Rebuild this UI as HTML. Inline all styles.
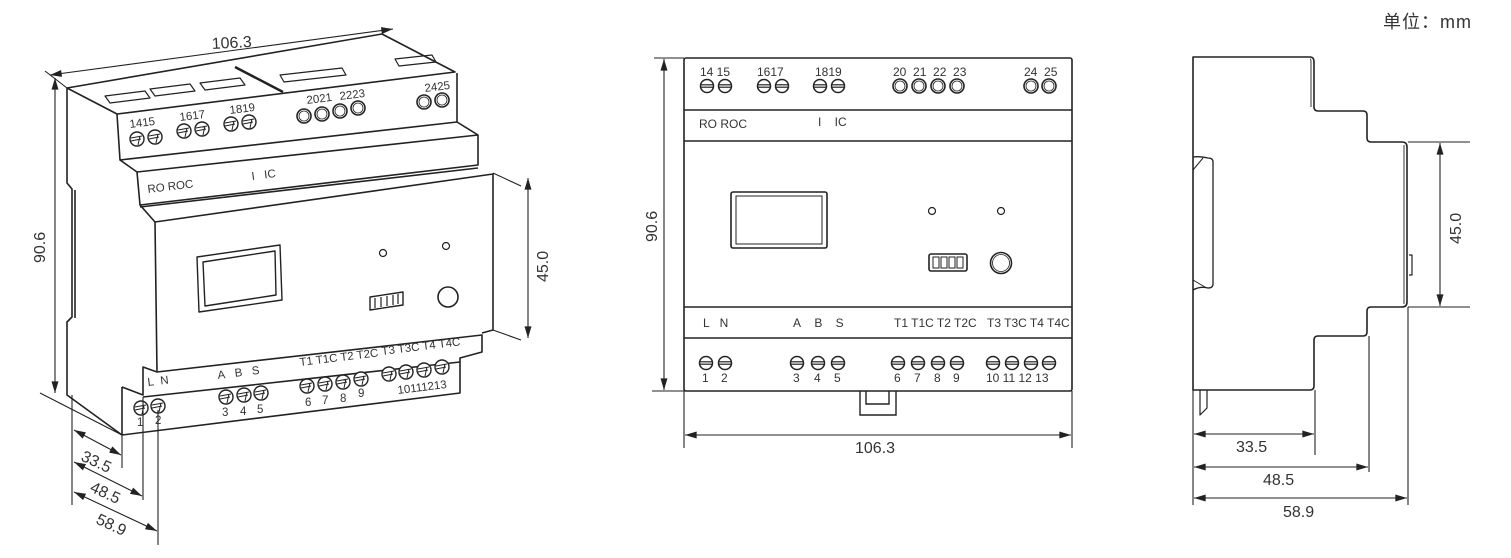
<!DOCTYPE html>
<html><head><meta charset="utf-8"><style>
html,body{margin:0;padding:0;background:#fff;}
svg{display:block;}
text{font-family:"Liberation Sans","Noto Sans CJK SC",sans-serif;fill:#333;}
</style></head><body>
<svg width="1511" height="558" viewBox="0 0 1511 558" xmlns="http://www.w3.org/2000/svg">
<defs>
<marker id="a" viewBox="0 0 10 6" refX="10" refY="3" markerWidth="16" markerHeight="7" orient="auto-start-reverse" markerUnits="userSpaceOnUse"><path d="M0,0 L10,3 L0,6 z" fill="#222"/></marker>
<g id="sc"><circle r="6.5" fill="#fff" stroke="#222" stroke-width="1.5"/><line x1="-6" y1="-1.2" x2="6" y2="-1.2" stroke="#222" stroke-width="1.2"/><line x1="-6" y1="1.2" x2="6" y2="1.2" stroke="#222" stroke-width="1.2"/></g>
<g id="oc"><circle r="7" fill="#fff" stroke="#222" stroke-width="1.6"/><circle r="5" fill="none" stroke="#222" stroke-width="0.8"/></g>
<g id="is"><circle r="7" fill="#fff" stroke="#222" stroke-width="1.4"/><path d="M-6,-1 L5,-3 M-6,2 L4,0 M3,-3 L1,6" stroke="#222" stroke-width="1" fill="none"/></g>
</defs>
<text x="1383" y="28" font-size="18" letter-spacing="1">单位：mm</text>

<!-- ============ Isometric view ============ -->
<g stroke="#222" stroke-width="1.6" fill="none" stroke-linejoin="round">
<path d="M67,88 L382,34 L455,72 L117,114 Z" fill="#fff"/>
<line x1="235" y1="67" x2="283" y2="92" stroke-width="2.5"/>
<path d="M117,114 L120,160 L457,122 L457,73"/>
<path d="M120,160 L137,172 L140,205 L478,165 L478,135 L457,122"/>
<path d="M137,172 L478,135"/>
<path d="M140,205 L155,222 L157,372 M155,222 L493,174 L493,330 L482,333"/>
<path d="M140,207 L478,168"/>
<path d="M157,372 L482,335 L482,352 L460,358 L460,393 L122,435"/>
<path d="M122,387 L143,395 L143,367 L157,372 M122,387 L122,435 M143,397 L460,362"/>
<path d="M67,88 L67,183 L72,189 L72,317 L67,322 L67,395 L122,435"/>
<path d="M75,190 L75,318"/>
<g stroke-width="1.2">
<path d="M105,96 L145,91 L150,98 L110,103 Z M150,89 L190,84 L195,91 L155,96 Z M200,83 L240,78 L245,85 L205,90 Z M280,75 L342,68 L346,75 L284,82 Z M395,59 L432,55 L436,62 L399,66 Z"/>
</g>
<path d="M197,257 L280,245 L282,300 L199,312 Z M203,262 L275,251 L276,295 L205,306 Z" stroke-width="1.4"/>
<circle cx="383" cy="253" r="3.5" stroke-width="1.2"/>
<circle cx="446" cy="246" r="3.5" stroke-width="1.2"/>
<path d="M370,297 L403,292 L403,305 L370,310 Z" stroke-width="1.4"/>
<path d="M375,298 L375,308 M381,297 L381,307 M387,296 L387,306 M393,295 L393,305 M398,294 L398,304" stroke-width="1.2"/>
<circle cx="448" cy="297" r="10" stroke-width="1.6"/>
</g>
<g>
<use href="#is" x="137" y="139"/><use href="#is" x="155" y="137"/>
<use href="#is" x="184" y="131"/><use href="#is" x="202" y="129"/>
<use href="#is" x="231" y="124"/><use href="#is" x="249" y="122"/>
<use href="#oc" x="304" y="116"/><use href="#oc" x="322" y="114"/><use href="#oc" x="340" y="111"/><use href="#oc" x="358" y="108"/>
<use href="#oc" x="424" y="102"/><use href="#oc" x="442" y="100"/>
<use href="#is" x="141" y="408"/><use href="#is" x="158" y="406"/>
<use href="#is" x="226" y="397"/><use href="#is" x="244" y="395"/><use href="#is" x="261" y="393"/>
<use href="#is" x="307" y="386"/><use href="#is" x="325" y="384"/><use href="#is" x="343" y="382"/><use href="#is" x="361" y="379"/>
<use href="#is" x="389" y="374"/><use href="#is" x="406" y="372"/><use href="#is" x="424" y="370"/><use href="#is" x="442" y="367"/>
</g>
<g font-size="11.5">
<text x="130" y="128" transform="rotate(-7 130 128)">1415</text>
<text x="180" y="121" transform="rotate(-7 180 121)">1617</text>
<text x="230" y="114" transform="rotate(-7 230 114)">1819</text>
<text x="307" y="104" transform="rotate(-7 307 104)">2021</text>
<text x="340" y="100" transform="rotate(-7 340 100)">2223</text>
<text x="425" y="92" transform="rotate(-7 425 92)">2425</text>
<text x="148" y="193" transform="rotate(-7 148 193)">RO ROC</text>
<text x="252" y="180" transform="rotate(-7 252 180)">I&#160;&#160;&#160;IC</text>
<text x="148" y="386" transform="rotate(-7 148 386)">L&#160;&#160;N</text>
<text x="218" y="379" transform="rotate(-7 218 379)">A&#160;&#160;&#160;B&#160;&#160;&#160;S</text>
<text x="300" y="366" transform="rotate(-7 300 366)">T1 T1C T2 T2C</text>
<text x="382" y="355" transform="rotate(-7 382 355)">T3 T3C T4 T4C</text>
<text x="137" y="426">1</text><text x="155" y="424">2</text>
<text x="222" y="416">3</text><text x="240" y="415">4</text><text x="257" y="413">5</text>
<text x="305" y="406">6</text><text x="322" y="404">7</text><text x="340" y="402">8</text><text x="358" y="397">9</text>
<text x="398" y="394" transform="rotate(-7 398 394)">10111213</text>
</g>
<g stroke="#222" stroke-width="1.1" fill="none">
<line x1="50" y1="75" x2="393" y2="29" marker-start="url(#a)" marker-end="url(#a)"/>
<line x1="45" y1="71" x2="67" y2="88"/>
<line x1="55" y1="78" x2="55" y2="393" marker-start="url(#a)" marker-end="url(#a)"/>
<line x1="40" y1="393" x2="122" y2="435"/>
<line x1="528" y1="178" x2="528" y2="338" marker-start="url(#a)" marker-end="url(#a)"/>
<line x1="493" y1="173" x2="521" y2="186"/><line x1="493" y1="330" x2="521" y2="340"/>
<line x1="72" y1="395" x2="72" y2="505"/>
<line x1="122" y1="435" x2="122" y2="468"/>
<line x1="143" y1="397" x2="143" y2="500"/>
<line x1="158" y1="410" x2="158" y2="545"/>
<line x1="74" y1="430" x2="121" y2="455" marker-start="url(#a)" marker-end="url(#a)"/>
<line x1="74" y1="462" x2="142" y2="496" marker-start="url(#a)" marker-end="url(#a)"/>
<line x1="74" y1="492" x2="157" y2="531" marker-start="url(#a)" marker-end="url(#a)"/>
</g>
<g font-size="16">
<text x="212" y="49" transform="rotate(-3 212 49)">106.3</text>
<text x="45" y="263" transform="rotate(-90 45 263)">90.6</text>
<text x="548" y="282" transform="rotate(-90 548 282)">45.0</text>
<text x="80" y="460" transform="rotate(25 80 460)">33.5</text>
<text x="89" y="491" transform="rotate(25 89 491)">48.5</text>
<text x="95" y="523" transform="rotate(25 95 523)">58.9</text>
</g>

<!-- ============ Front view ============ -->
<g stroke="#222" stroke-width="1.6" fill="none">
<rect x="684" y="58" width="388" height="333" rx="2" fill="#fff"/>
<line x1="684" y1="110" x2="1072" y2="110"/><line x1="684" y1="141" x2="1072" y2="141"/>
<line x1="684" y1="307" x2="1072" y2="307"/><line x1="684" y1="338" x2="1072" y2="338"/>
<rect x="731" y="192" width="96" height="56" rx="2"/>
<rect x="736" y="196" width="86" height="48" stroke-width="1"/>
<circle cx="932" cy="211" r="3.5" stroke-width="1.2"/><circle cx="1001" cy="211" r="3.5" stroke-width="1.2"/>
<rect x="929" y="254" width="38" height="17" rx="2"/>
<path d="M933,257 h6v11h-6z M941,257 h6v11h-6z M949,257 h6v11h-6z M957,257 h6v11h-6z" stroke-width="1"/>
<circle cx="1001" cy="263" r="10.5"/><circle cx="1001" cy="263" r="8.5" stroke-width="0.8"/>
<path d="M860,391 V415 H896 V391 M866,391 V404 H889 V391" stroke-width="1.4"/>
</g>
<g>
<use href="#sc" x="707" y="86"/><use href="#sc" x="725" y="86"/>
<use href="#sc" x="764" y="86"/><use href="#sc" x="782" y="86"/>
<use href="#sc" x="820" y="86"/><use href="#sc" x="838" y="86"/>
<use href="#oc" x="900" y="86"/><use href="#oc" x="919" y="86"/><use href="#oc" x="938" y="86"/><use href="#oc" x="957" y="86"/>
<use href="#oc" x="1031" y="86"/><use href="#oc" x="1049" y="86"/>
<use href="#sc" x="706" y="363"/><use href="#sc" x="725" y="363"/>
<use href="#sc" x="797" y="363"/><use href="#sc" x="818" y="363"/><use href="#sc" x="838" y="363"/>
<use href="#sc" x="898" y="363"/><use href="#sc" x="918" y="363"/><use href="#sc" x="938" y="363"/><use href="#sc" x="957" y="363"/>
<use href="#sc" x="993" y="363"/><use href="#sc" x="1012" y="363"/><use href="#sc" x="1031" y="363"/><use href="#sc" x="1049" y="363"/>
</g>
<g font-size="12">
<text x="700" y="76">14 15</text><text x="757" y="76">1617</text><text x="815" y="76">1819</text>
<text x="893" y="76">20&#160;&#160;21&#160;&#160;22&#160;&#160;23</text>
<text x="1024" y="76">24&#160;&#160;25</text>
<text x="699" y="128">RO ROC</text>
<text x="818" y="126">I&#160;&#160;&#160;&#160;IC</text>
<text x="703" y="327">L&#160;&#160;&#160;N</text>
<text x="793" y="327">A&#160;&#160;&#160;&#160;B&#160;&#160;&#160;&#160;S</text>
<text x="894" y="327">T1 T1C T2 T2C</text>
<text x="987" y="327">T3 T3C T4 T4C</text>
<text x="702" y="382">1</text><text x="721" y="382">2</text>
<text x="793" y="382">3</text><text x="814" y="382">4</text><text x="834" y="382">5</text>
<text x="894" y="382">6</text><text x="914" y="382">7</text><text x="934" y="382">8</text><text x="953" y="382">9</text>
<text x="986" y="382">10&#160;11&#160;12&#160;13</text>
</g>
<g stroke="#222" stroke-width="1.1" fill="none">
<line x1="664" y1="59" x2="664" y2="390" marker-start="url(#a)" marker-end="url(#a)"/>
<line x1="654" y1="58" x2="684" y2="58"/><line x1="652" y1="391" x2="684" y2="391"/>
<line x1="685" y1="435" x2="1071" y2="435" marker-start="url(#a)" marker-end="url(#a)"/>
<line x1="684" y1="391" x2="684" y2="448"/><line x1="1072" y1="391" x2="1072" y2="448"/>
</g>
<g font-size="16">
<text x="657" y="242" transform="rotate(-90 657 242)">90.6</text>
<text x="855" y="453">106.3</text>
</g>

<!-- ============ Side view ============ -->
<g stroke="#222" stroke-width="1.6" fill="none" stroke-linejoin="round">
<path d="M1193,57 H1310 Q1314,57 1314,62 V107 Q1314,111 1318,111 H1363 Q1367,111 1367,115 V138 Q1367,142 1371,142 H1402 Q1407,142 1407,147 V302 Q1407,307 1402,307 H1371 Q1367,307 1367,311 V332 Q1367,336 1363,336 H1318 Q1314,336 1314,340 V386 Q1314,390 1310,390 H1193 Z" fill="#fff"/>
<path d="M1310,59 Q1311,59 1311,62 V107 M1404,145 V304" stroke-width="0.9"/>
<path d="M1193,157 Q1200,156 1208,158 Q1213,158 1213,162 V284 Q1213,288 1208,288 Q1200,286 1193,290" stroke-width="1.3"/>
<path d="M1193,170 L1203,158 M1193,280 L1205,287" stroke-width="1"/>
<path d="M1200,390 V415 L1207,408 V390" stroke-width="1.2"/>
<path d="M1409,255 h3 v20 h-3" stroke-width="1.2"/>
</g>
<g stroke="#222" stroke-width="1.1" fill="none">
<line x1="1440" y1="143" x2="1440" y2="306" marker-start="url(#a)" marker-end="url(#a)"/>
<line x1="1408" y1="142" x2="1470" y2="142"/><line x1="1408" y1="307" x2="1470" y2="307"/>
<line x1="1193" y1="390" x2="1193" y2="505"/>
<line x1="1315" y1="390" x2="1315" y2="455"/>
<line x1="1369" y1="336" x2="1369" y2="472"/>
<line x1="1408" y1="307" x2="1408" y2="505"/>
<line x1="1194" y1="434" x2="1314" y2="434" marker-start="url(#a)" marker-end="url(#a)"/>
<line x1="1194" y1="467" x2="1368" y2="467" marker-start="url(#a)" marker-end="url(#a)"/>
<line x1="1194" y1="498" x2="1407" y2="498" marker-start="url(#a)" marker-end="url(#a)"/>
</g>
<g font-size="16">
<text x="1461" y="244" transform="rotate(-90 1461 244)">45.0</text>
<text x="1236" y="452">33.5</text>
<text x="1263" y="485">48.5</text>
<text x="1283" y="517">58.9</text>
</g>
</svg>
</body></html>
